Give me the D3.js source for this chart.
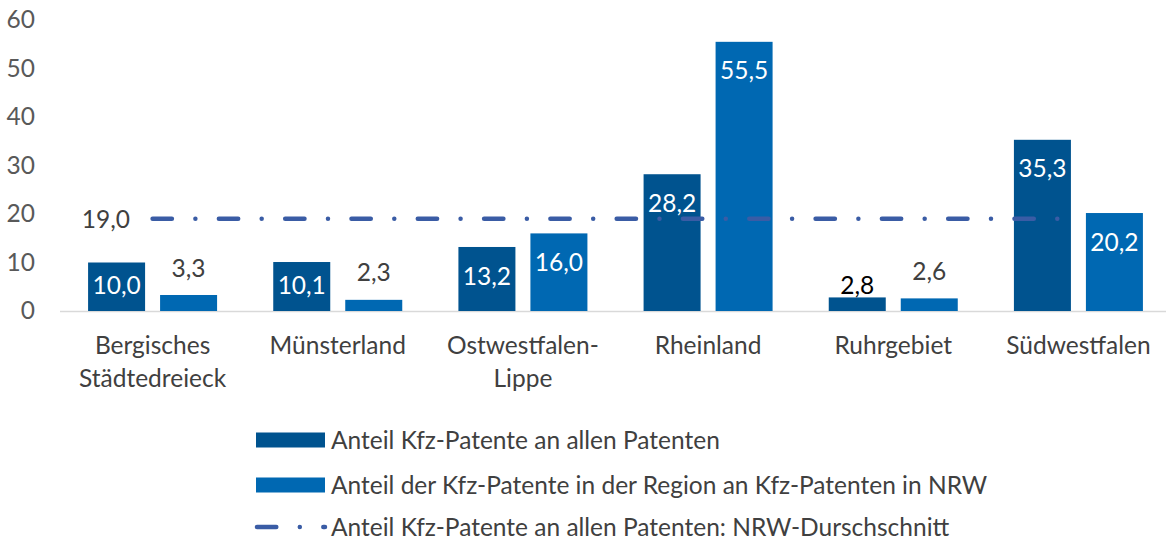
<!DOCTYPE html>
<html><head><meta charset="utf-8">
<script src="https://cdn.jsdelivr.net/npm/d3@7"></script>
<style>
html,body{margin:0;padding:0;background:#fff;}
svg{display:block;font-family:Lato,"Open Sans",sans-serif;}
</style></head>
<body>
<svg id="chart" width="1166" height="542"></svg>
<script>
const categories = [["Bergisches","Städtedreieck"],["Münsterland"],["Ostwestfalen-","Lippe"],["Rheinland"],["Ruhrgebiet"],["Südwestfalen"]];
const seriesNames = ["Anteil Kfz-Patente an allen Patenten","Anteil der Kfz-Patente in der Region an Kfz-Patenten in NRW"];
const shareAll = [10.0, 10.1, 13.2, 28.2, 2.8, 35.3];
const shareRegion = [3.3, 2.3, 16.0, 55.5, 2.6, 20.2];
const nrwAverage = 19.0;
const avgName = "Anteil Kfz-Patente an allen Patenten: NRW-Durschschnitt";
const yTicks = [0,10,20,30,40,50,60];

const colors = ["#00538F","#0068B2"];
const lineColor = "#3A5CA5";
const textColor = "#404040";
const FS = "24.5px";
const fmt = v => v.toFixed(1).replace(".", ",");

const svg = d3.select("#chart");
const catKeys = categories.map(c => c.join(" "));
const x0 = d3.scaleBand().domain(catKeys).range([60, 1171]).padding(0);
const x1 = d3.scaleBand().domain([0,1]).range([0, x0.bandwidth()]).paddingInner(0.2083).paddingOuter(0.39);
const y = d3.scaleLinear().domain([0,60]).range([311, 20]);

// y axis labels
const yAxis = d3.axisLeft(y).tickValues(yTicks).tickSize(0).tickPadding(0).tickFormat(d => d);
const ya = svg.append("g").attr("transform","translate(35,0)").call(yAxis);
ya.select(".domain").remove();
ya.selectAll("text").attr("fill","#595959").style("font-size",FS).style("font-family","Lato");

// baseline
svg.append("line").attr("x1",60).attr("x2",1166).attr("y1",y(0)+0.5).attr("y2",y(0)+0.5)
  .attr("stroke","#D9D9D9").attr("stroke-width",1.5);

// bars
const series = [shareAll, shareRegion];
series.forEach((vals, s) => {
  const g = svg.append("g");
  g.selectAll("rect").data(vals).join("rect")
    .attr("x", (d,i) => x0(catKeys[i]) + x1(s))
    .attr("width", x1.bandwidth())
    .attr("y", d => y(d))
    .attr("height", d => y(0) - y(d))
    .attr("fill", colors[s]);
  g.selectAll("text").data(vals).join("text")
    .attr("x", (d,i) => x0(catKeys[i]) + x1(s) + x1.bandwidth()/2)
    .attr("y", (d,i) => {
      if (d > 5) return Math.min(y(d) + 29, y(0) - 26);
      if (s === 0 && i === 4) return y(d) - 12;
      return y(d) - 27;
    })
    .attr("dy","0.35em")
    .attr("text-anchor","middle")
    .attr("fill", (d,i) => d > 5 ? "#fff" : (s === 0 && i === 4 ? "#000" : textColor))
    .style("font-size",FS)
    .text(d => fmt(d));
});

// average line
const xa = x0(catKeys[0]) + x0.bandwidth()/2;
const xb = x0(catKeys[catKeys.length-1]) + x0.bandwidth()/2;
svg.append("line").attr("x1", xa).attr("x2", xb).attr("y1", y(nrwAverage)).attr("y2", y(nrwAverage))
  .attr("stroke", lineColor).attr("stroke-width", 4.5).attr("stroke-linecap","round")
  .attr("stroke-dasharray","19.3,23.5,0,23.5");
svg.append("text").attr("x", 130).attr("y", y(nrwAverage)+1).attr("dy","0.35em")
  .attr("text-anchor","end").attr("fill", textColor).style("font-size",FS).text(fmt(nrwAverage));

// category labels
const xg = svg.append("g");
categories.forEach((lines, i) => {
  const t = xg.append("text").attr("x", x0(catKeys[i]) + x0.bandwidth()/2).attr("y", 345)
    .attr("text-anchor","middle").attr("fill", textColor).style("font-size",FS);
  lines.forEach((l, j) => t.append("tspan").attr("x", x0(catKeys[i]) + x0.bandwidth()/2)
    .attr("y", 345 + j*33).attr("dy","0.35em").text(l));
});

// legend
const lg = svg.append("g");
const legendRows = [440, 485, 527];
seriesNames.forEach((n, s) => {
  lg.append("rect").attr("x", 256).attr("y", legendRows[s]-7.5).attr("width", 69).attr("height", 15).attr("fill", colors[s]);
  lg.append("text").attr("x", 331).attr("y", legendRows[s]).attr("dy","0.35em")
    .attr("fill", textColor).style("font-size",FS).text(n);
});
lg.append("line").attr("x1", 257).attr("x2", 325).attr("y1", legendRows[2]).attr("y2", legendRows[2])
  .attr("stroke", lineColor).attr("stroke-width", 4.5).attr("stroke-linecap","round")
  .attr("stroke-dasharray","19.3,23.5,0,23.5");
lg.append("text").attr("x", 331).attr("y", legendRows[2]).attr("dy","0.35em")
  .attr("fill", textColor).style("font-size",FS).text(avgName);
</script>
</body></html>
